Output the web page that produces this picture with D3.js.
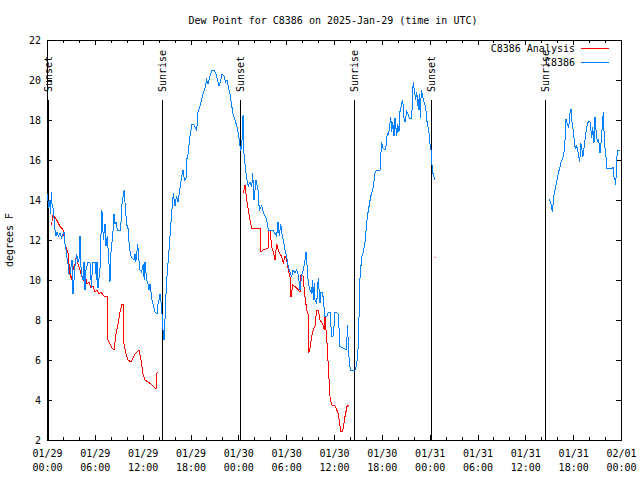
<!DOCTYPE html>
<html><head><meta charset="utf-8">
<script src="https://cdn.jsdelivr.net/npm/d3@7"></script>
<style>
body{margin:0;background:#fff}
text{font-family:"DejaVu Sans Mono","Liberation Mono",monospace;font-size:10px;fill:#000}
</style>
</head><body><svg id="c" width="640" height="480"></svg>
<script>
// ---- data (time = hours since 2025-01-29 00:00 UTC) ----
const chartTitle = "Dew Point for C8386 on 2025-Jan-29 (time in UTC)";
const yLabel = "degrees F";
const seriesNames = ["C8386 Analysis", "C8386"];
const seriesColors = ["#ff0000", "#0080ff"];
const yTicks = [2,4,6,8,10,12,14,16,18,20,22];

const blueHours = [
 0.00,0.06,0.19,0.31,0.44,0.54,0.63,0.75,0.88,1.00,1.13,1.25,1.44,1.63,1.82,2.01,2.13,2.26,2.38,2.51,2.63,2.76,2.89,
 3.14,3.26,3.51,3.73,3.89,4.01,4.14,4.23,4.39,4.52,4.64,4.77,4.89,5.14,5.39,5.58,5.71,6.02,6.21,6.27,6.40,6.65,
 6.86,6.96,7.06,7.28,7.40,7.56,7.78,7.90,8.03,8.24,8.40,8.53,8.66,8.82,9.24,9.37,9.57,9.70,9.78,10.00,10.10,10.20,
 10.32,10.50,10.66,10.91,11.04,11.13,11.25,11.38,11.50,11.67,11.88,12.08,12.19,12.29,12.51,12.67,12.79,12.92,13.05,
 13.17,13.30,13.42,13.55,13.80,13.92,14.05,14.17,14.30,14.43,14.55,14.68,14.80,14.93,15.01,15.34,15.64,15.84,16.06,
 16.24,16.43,16.68,16.90,17.06,17.25,17.44,17.52,17.69,17.94,18.19,18.44,18.78,18.94,19.19,19.38,19.57,19.82,20.03,
 20.20,20.45,20.70,20.95,21.20,21.39,21.58,21.76,21.95,22.20,22.39,22.58,22.77,22.96,23.14,23.33,23.58,23.80,23.96,
 24.12,24.27,24.42,24.59,24.71,24.84,24.96,25.09,25.25,25.46,25.68,25.80,25.97,26.22,26.47,26.63,26.93,27.13,27.35,
 27.56,27.76,28.35,28.60,28.81,28.98,29.14,29.32,29.44,29.64,29.85,30.04,30.27,30.48,30.70,30.86,31.11,31.32,31.52,
 31.74,31.95,32.15,32.36,32.49,32.65,32.78,32.99,33.20,33.30,33.40,33.52,33.62,33.83,34.03,34.24,34.37,34.58,34.87,
 35.09,35.29,35.50,35.71,35.91,36.13,36.54,36.75,37.59,37.67,37.79,37.92,38.10,38.63,38.85,39.05,39.17,39.26,39.48,
 39.68,39.89,40.01,40.18,40.39,40.60,40.73,40.93,41.14,41.36,41.77,41.86,41.98,42.11,42.40,42.52,42.69,42.81,42.94,
 43.11,43.24,43.36,43.53,43.65,43.87,43.99,44.15,44.28,44.49,44.62,44.78,44.91,45.12,45.28,45.44,45.75,45.87,45.95,
 46.07,46.25,46.37,46.58,46.70,46.83,46.95,47.13,47.29,47.50,47.63,47.83,47.95,48.04,48.17,48.26,48.33,48.46,48.67,
 null,
 63.01,63.18,63.31,63.43,63.51,63.72,63.85,64.01,64.19,64.35,64.48,64.69,64.81,64.94,65.01,65.10,65.26,65.39,65.51,
 65.60,65.73,65.82,65.94,66.11,66.23,66.36,66.44,66.57,66.69,66.82,66.98,67.11,67.23,67.36,67.52,67.70,67.90,68.11,
 68.33,68.45,68.61,68.74,68.90,69.03,69.20,69.37,69.53,69.71,69.78,69.91,70.04,70.16,70.21,70.84,71.04,71.13,71.25,
 71.34,71.47,71.59,71.88
];
const blueValues = [
 14.0,14.3,13.6,14.0,13.3,14.4,13.8,13.6,13.1,12.5,12.2,12.4,12.2,12.35,12.1,12.3,12.4,11.8,11.5,11.1,10.8,10.3,10.3,
 11.0,9.3,10.7,11.3,10.9,11.0,12.2,10.8,10.2,10.0,10.9,9.5,10.5,10.9,10.9,9.6,10.9,10.9,10.0,10.9,9.6,10.6,
 13.5,13.2,12.0,12.8,11.7,12.2,10.8,9.9,11.4,12.2,13.3,12.8,12.9,12.5,12.5,13.67,14.25,14.5,13.9,12.75,12.7,12.5,
 11.7,11.25,11.1,11.0,11.3,10.9,11.3,11.8,11.1,10.5,10.4,10.8,10.0,10.9,10.0,9.8,9.5,9.8,9.4,
 9.0,8.8,8.6,8.4,8.3,8.8,9.0,9.3,8.9,8.3,7.5,7.0,8.0,9.3,10.0,11.67,13.35,14.33,13.7,
 14.2,13.9,14.6,15.2,15.5,15.0,15.1,16.0,16.3,17.2,17.8,17.75,17.5,18.4,18.7,19.0,19.3,19.6,20.0,
 19.8,20.2,20.5,20.5,20.3,20.0,19.7,19.9,20.3,20.2,19.9,20.0,19.6,19.3,18.8,18.3,18.0,17.7,17.4,
 17.0,16.5,16.6,18.25,16.3,15.8,15.35,15.0,14.7,14.9,14.65,15.35,14.0,15.0,14.5,13.5,13.7,13.4,13.2,
 13.0,12.5,12.5,12.33,12.2,12.9,12.2,12.8,12.4,12.0,11.5,11.2,10.65,10.4,10.17,10.5,10.35,10.5,10.25,
 9.5,10.25,10.5,11.0,11.4,10.6,9.83,9.5,9.35,10.0,9.0,9.85,9.0,8.83,10.1,8.83,9.4,9.35,8.17,
 8.17,8.4,8.4,7.17,7.2,8.4,8.3,6.67,6.5,7.75,6.9,5.83,5.5,5.5,5.75,6.75,8.67,10.1,11.17,
 11.42,11.92,12.42,13.17,13.67,14.17,14.33,14.67,15.33,15.5,15.5,16.17,16.92,16.6,16.5,16.7,17.33,17.3,17.5,
 18.17,17.4,17.9,17.2,18.1,17.2,17.8,17.4,18.42,18.83,19.0,18.1,17.9,18.42,18.3,18.1,18.1,19.42,19.92,
 19.5,19.0,19.42,18.5,19.3,18.1,19.5,19.17,18.9,18.67,18.0,17.58,17.25,16.83,16.5,16.0,15.5,15.25,15.0,
 null,
 14.03,13.9,13.58,13.38,14.08,14.5,14.75,15.08,15.42,15.67,15.92,16.08,16.33,16.58,17.33,18.03,17.83,17.67,17.83,
 18.33,18.53,18.0,17.67,17.08,16.67,16.58,16.75,16.5,16.17,15.92,16.83,16.5,16.17,16.6,17.08,17.67,17.92,17.92,
 17.08,17.67,16.83,18.17,17.33,16.92,17.0,16.33,17.0,18.03,18.42,17.0,16.42,16.0,15.58,15.58,15.63,15.1,15.0,
 14.75,16.08,16.5,16.5
];

const redHours = [
 0.59,0.69,0.79,1.22,1.63,1.82,2.04,2.26,2.45,2.67,2.76,2.89,3.07,3.30,3.51,3.73,3.89,4.14,4.33,4.55,4.77,5.02,
 5.27,5.52,5.77,6.02,6.27,6.52,6.77,7.15,7.53,7.65,7.90,8.15,8.40,8.66,8.91,9.16,9.41,9.60,9.66,9.91,10.16,10.54,
 10.79,11.04,11.29,11.54,11.79,12.04,12.29,12.67,13.05,13.55,13.74,13.80,
 null,
 24.62,24.84,25.05,25.25,25.46,25.68,26.81,26.82,27.13,27.76,27.78,27.97,28.19,28.39,28.60,28.81,29.01,29.23,
 29.44,29.64,29.85,30.07,30.27,30.48,30.61,30.82,31.32,31.52,31.74,31.86,32.11,32.36,32.58,32.74,32.83,32.99,
 33.20,33.40,33.62,33.83,34.03,34.24,34.58,34.78,34.87,35.09,35.29,35.50,35.71,36.13,36.54,36.84,37.09,37.38,
 37.67,37.92
];
const redValues = [
 12.75,13.2,13.25,13.0,12.67,12.6,12.5,11.8,11.6,11.3,10.8,10.3,10.0,10.6,10.8,11.3,10.8,10.5,10.2,10.0,10.3,9.8,
 9.9,9.6,9.7,9.4,9.5,9.3,9.4,9.2,9.2,7.0,6.8,6.6,6.5,7.3,7.8,8.4,8.8,8.8,6.8,6.3,6.0,5.9,
 6.1,6.3,6.4,6.5,6.0,5.3,5.0,4.9,4.8,4.6,4.6,5.4,
 null,
 14.33,14.75,14.0,13.5,13.0,12.58,12.58,11.42,11.5,11.6,12.5,12.45,11.67,11.4,11.0,11.8,11.5,11.3,
 11.17,10.83,11.2,11.0,10.5,10.17,9.17,9.75,9.6,9.5,9.4,10.25,10.2,9.17,8.5,8.3,6.33,6.6,
 7.17,7.5,7.7,8.5,8.5,8.0,7.8,7.5,8.15,7.08,5.67,4.17,3.75,3.7,3.33,2.42,2.42,3.17,
 3.75,3.75
];
const redDotHours = [48.67];
const redDotValues = [11.13];

const sunEventHours = [0.13, 14.55, 24.21, 38.51, 48.17, 62.59];
const sunEventLabels = ["Sunset","Sunrise","Sunset","Sunrise","Sunset","Sunrise"];

// ---- drawing ----
const t0 = Date.UTC(2025,0,29,0,0);
const toDate = h => new Date(t0 + h*3600e3);
const svg = d3.select("#c");
const L=47, R=621, T=40, B=440;

const x = d3.scaleUtc().domain([toDate(0), toDate(72)]).range([L,R]);
const y = d3.scaleLinear().domain([2,22]).range([B,T]);

const majorX = d3.utcHour.every(6).range(toDate(0), toDate(72.01));
const minorX = d3.utcHour.every(2).range(toDate(0), toDate(72.01)).filter(d => d.getUTCHours()%6 !== 0);

// title
svg.append("text").attr("x", 333).attr("y", 24).attr("text-anchor","middle").text(chartTitle);
// y label
svg.append("text").attr("transform","translate(13,240) rotate(-90)").attr("text-anchor","middle").text(yLabel);

// axes
const gB = svg.append("g").attr("transform",`translate(0,${B})`)
  .call(d3.axisBottom(x).tickValues(majorX).tickSize(-5).tickSizeOuter(0).tickPadding(9.5)
        .tickFormat(d3.utcFormat("%m/%d")));
gB.selectAll(".tick text").each(function(d){
  const t = d3.select(this);
  t.append("tspan").attr("x",0).attr("dy","1.4em").text(d3.utcFormat("%H:%M")(d));
});
svg.append("g").attr("transform",`translate(0,${B})`)
  .call(d3.axisBottom(x).tickValues(minorX).tickSize(-3).tickSizeOuter(0).tickFormat(""));
svg.append("g").attr("transform",`translate(0,${T})`)
  .call(d3.axisTop(x).tickValues(majorX).tickSize(-5).tickSizeOuter(0).tickFormat(""));
svg.append("g").attr("transform",`translate(0,${T})`)
  .call(d3.axisTop(x).tickValues(minorX).tickSize(-3).tickSizeOuter(0).tickFormat(""));
svg.append("g").attr("transform",`translate(${L},0)`)
  .call(d3.axisLeft(y).tickValues(yTicks).tickSize(-5).tickSizeOuter(0).tickPadding(6).tickFormat(d3.format("d")));
svg.append("g").attr("transform",`translate(${R},0)`)
  .call(d3.axisRight(y).tickValues(yTicks).tickSize(-5).tickSizeOuter(0).tickFormat(""));
svg.selectAll(".domain").remove();
svg.selectAll(".tick line").attr("stroke","#000").attr("shape-rendering","crispEdges");
svg.selectAll(".tick text").style("font-family",'"DejaVu Sans Mono","Liberation Mono",monospace').style("font-size","10px").attr("fill","#000");

// frame
svg.append("rect").attr("x",L).attr("y",T).attr("width",R-L).attr("height",B-T)
  .attr("fill","none").attr("stroke","#000").attr("shape-rendering","crispEdges");

// sun event lines
const ev = svg.append("g");
sunEventHours.forEach((h,i)=>{
  const xx = x(toDate(h));
  ev.append("line").attr("x1",xx).attr("x2",xx).attr("y1",100).attr("y2",B)
    .attr("stroke","#000").attr("shape-rendering","crispEdges");
  ev.append("text").attr("transform",`translate(${xx+3.5},92) rotate(-90)`).text(sunEventLabels[i]);
});

// series
const line = d3.line()
  .defined(d => d[0] !== null && d[1] !== null)
  .x(d => x(toDate(d[0]))).y(d => y(d[1]));
const redData = redHours.map((h,i)=>[h, redValues[i]]);
const blueData = blueHours.map((h,i)=>[h, blueValues[i]]);
svg.append("path").datum(redData).attr("d",line).attr("fill","none")
  .attr("stroke",seriesColors[0]).attr("stroke-width",1).attr("shape-rendering","crispEdges");
svg.append("path").datum(blueData).attr("d",line).attr("fill","none")
  .attr("stroke",seriesColors[1]).attr("stroke-width",1).attr("shape-rendering","crispEdges");
svg.selectAll(null).data(redDotHours).enter().append("rect")
  .attr("x",(d)=>x(toDate(d))-0.5).attr("y",(d,i)=>y(redDotValues[i])-0.5)
  .attr("width",1).attr("height",1).attr("fill",seriesColors[0]);

// legend
const leg = svg.append("g");
seriesNames.forEach((n,i)=>{
  const yy = 48 + i*14;
  leg.append("text").attr("x",575).attr("y",yy).attr("dy","0.35em").attr("text-anchor","end").text(n);
  leg.append("line").attr("x1",581).attr("x2",609).attr("y1",yy).attr("y2",yy)
    .attr("stroke",seriesColors[i]).attr("shape-rendering","crispEdges");
});
</script>
</body></html>
